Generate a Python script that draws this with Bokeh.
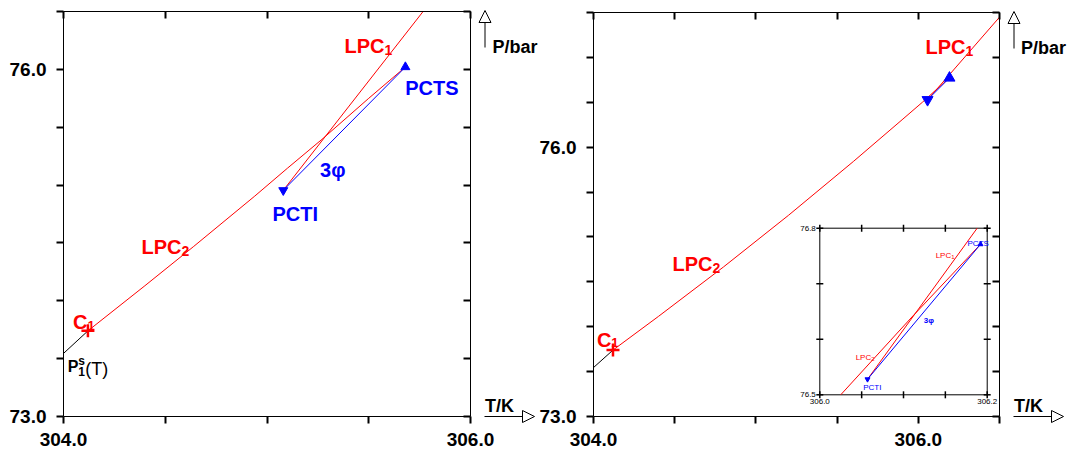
import numpy as np
from bokeh.plotting import figure
from bokeh.models import (Range1d, LinearAxis, FixedTicker, NumeralTickFormatter,
                          Arrow, NormalHead, Label)
from bokeh.layouts import row
from bokeh.embed import file_html
from bokeh.resources import INLINE
from bokeh.core.properties import value

# ---------------- data ----------------
# saturation pressure curve of component 1, ending at its critical point C1
p1s_T = [304.0, 304.12]
p1s_P = [73.545, 73.74]
c1_T = [304.12]
c1_P = [73.74]

# left panel
left_lpc2_T = [304.12, 304.40, 304.64, 304.94, 305.10, 305.27, 305.50, 305.68]
left_lpc2_P = [73.74, 74.13, 74.47, 74.905, 75.145, 75.395, 75.75, 76.02]
left_lpc1_T = [305.08, 305.40, 305.767]
left_lpc1_P = [74.955, 75.675, 76.50]
left_3ph_T = [305.08, 305.68]
left_3ph_P = [74.955, 76.02]
left_pcti_T = [305.08]
left_pcti_P = [74.955]
left_pcts_T = [305.68]
left_pcts_P = [76.02]

# right panel
right_lpc2_T = [304.12, 304.40, 304.80, 305.20, 305.60, 305.90, 306.025, 306.11, 306.192]
right_lpc2_P = [73.74, 74.115, 74.665, 75.24, 75.84, 76.305, 76.50, 76.64, 76.771]
right_lpc1_T = [306.057, 306.188, 306.50]
right_lpc1_P = [76.528, 76.80, 77.448]
right_3ph_T = [306.057, 306.192]
right_3ph_P = [76.528, 76.771]
right_pcti_T = [306.057]
right_pcti_P = [76.528]
right_pcts_T = [306.192]
right_pcts_P = [76.771]

# inset (zoom of the three-phase region of the right panel)
inset_lpc2_T = [306.025, 306.11, 306.192]
inset_lpc2_P = [76.50, 76.64, 76.771]
inset_lpc1_T = [306.057, 306.188]
inset_lpc1_P = [76.528, 76.80]

# ticks
left_x_labeled = [304.0, 306.0]
left_x_minor = [304.5, 305.0, 305.5]
left_y_labeled = [73.0, 76.0]
left_y_minor = [73.5, 74.0, 74.5, 75.0, 75.5, 76.5]
right_x_labeled = [304.0, 306.0]
right_x_minor = [304.5, 305.0, 305.5, 306.5]
right_y_labeled = [73.0, 76.0]
right_y_minor = [73.5, 74.0, 74.5, 75.0, 75.5, 76.5, 77.0, 77.5]
inset_xticks = [306.0, 306.05, 306.1, 306.15, 306.2]
inset_xlabeled = [306.0, 306.2]
inset_yticks = [76.5, 76.6, 76.7, 76.8]
inset_ylabeled = [76.5, 76.8]

# ---------------- styling ----------------
FONT = "Liberation Sans"
RED = "#ff0000"
BLUE = "#0000ff"
H = 452


def style_axis(ax, outward, standoff=0):
    ax.axis_line_color = "black"
    ax.axis_line_width = 1
    ax.major_tick_line_color = "black"
    ax.minor_tick_line_color = "black"
    ax.major_tick_line_width = 2
    ax.minor_tick_line_width = 2
    if outward:
        ax.major_tick_out = 7
        ax.major_tick_in = 0
        ax.minor_tick_out = 7
        ax.minor_tick_in = 0
        ax.major_label_text_font = FONT
        ax.major_label_text_font_style = "bold"
        ax.major_label_text_font_size = "19px"
        ax.major_label_text_color = "black"
        ax.major_label_standoff = standoff
    else:
        ax.major_tick_out = 0
        ax.major_tick_in = 7
        ax.minor_tick_out = 0
        ax.minor_tick_in = 7


def make_panel(width, xr, yr, vis_w, vis_h, left_px, top_px, xlab, xmin, ylab, ymin):
    # The frame fills the whole canvas so that the tick labels and the axis
    # arrows beside the box are not clipped; the box (xr x yr) is formed by the
    # four axes, each pinned at a side of the box.
    kx = (xr[1] - xr[0]) / vis_w
    ky = (yr[1] - yr[0]) / vis_h
    right_px = width - left_px - vis_w
    bottom_px = H - top_px - vis_h
    p = figure(width=width, height=H,
               x_range=Range1d(xr[0] - left_px * kx, xr[1] + right_px * kx),
               y_range=Range1d(yr[0] - bottom_px * ky, yr[1] + top_px * ky),
               output_backend="svg", toolbar_location=None,
               min_border_left=0, min_border_right=0,
               min_border_top=0, min_border_bottom=0,
               background_fill_color="white", border_fill_color="white")
    p.xgrid.visible = False
    p.ygrid.visible = False
    p.outline_line_color = None
    xa, ya = p.xaxis[0], p.yaxis[0]
    xa.ticker = FixedTicker(ticks=xlab, minor_ticks=xmin)
    ya.ticker = FixedTicker(ticks=ylab, minor_ticks=ymin)
    xa.formatter = NumeralTickFormatter(format="0.0")
    ya.formatter = NumeralTickFormatter(format="0.0")
    xa.bounds = xr
    ya.bounds = yr
    xa.fixed_location = yr[0]
    ya.fixed_location = xr[0]
    style_axis(xa, True, standoff=9)
    style_axis(ya, True, standoff=10)
    top = LinearAxis(ticker=FixedTicker(ticks=[], minor_ticks=xlab + xmin),
                     bounds=xr, fixed_location=yr[1])
    right = LinearAxis(ticker=FixedTicker(ticks=[], minor_ticks=ylab + ymin),
                       bounds=yr, fixed_location=xr[1])
    style_axis(top, False)
    style_axis(right, False)
    p.add_layout(top, "above")
    p.add_layout(right, "right")
    return p


def lab(p, x, y, text, color, size=20, align="left", bold=True, font=FONT,
        x_offset=0, y_offset=0):
    p.add_layout(Label(x=x, y=y, text=text, text_color=color, text_font=font,
                       text_font_size=f"{size}px",
                       text_font_style="bold" if bold else "normal",
                       text_align=align, text_baseline="alphabetic",
                       x_offset=x_offset, y_offset=y_offset))


def sublab(p, x, y, main, sub, color, size=20, sub_size=14, drop=4):
    lab(p, x, y, main, color, size, align="right")
    lab(p, x, y, sub, color, sub_size, align="left", y_offset=-drop)


def decorations(p, xr, yr, fw, fh, dx_text):
    kx = (xr[1] - xr[0]) / fw
    ky = (yr[1] - yr[0]) / fh
    X = lambda px: xr[1] + px * kx
    Yt = lambda py: yr[1] - py * ky
    Yb = lambda py: yr[0] + py * ky
    head = lambda: NormalHead(size=12, fill_color="white", line_color="black", line_width=1)
    p.add_layout(Arrow(x_start=X(14.5), y_start=Yt(36), x_end=X(14.5), y_end=Yt(-1),
                       start=None, end=head(), line_color="black", line_width=1))
    p.add_layout(Arrow(x_start=X(14), y_start=yr[0], x_end=X(64), y_end=yr[0],
                       start=None, end=head(), line_color="black", line_width=1))
    lab(p, X(dx_text), Yt(35), "P/bar", "black", size=18)
    lab(p, X(14.5), Yb(11), "T/K", "black", size=18)


# ---------------- left panel ----------------
LXR, LYR = (304.0, 306.0), (73.0, 76.5)
p1 = make_panel(538, LXR, LYR, 407, 405, 63, 11, left_x_labeled, left_x_minor,
                left_y_labeled, left_y_minor)
p1.line(p1s_T, p1s_P, line_color="black", line_width=1)
p1.line(left_lpc2_T, left_lpc2_P, line_color=RED, line_width=1)
p1.line(left_lpc1_T, left_lpc1_P, line_color=RED, line_width=1)
p1.line(left_3ph_T, left_3ph_P, line_color=BLUE, line_width=1)
p1.scatter(c1_T, c1_P, marker="cross", size=13, line_width=2.5, line_color=RED)
p1.scatter(left_pcti_T, left_pcti_P, marker="inverted_triangle", size=9,
           fill_color=BLUE, line_color=BLUE)
p1.scatter(left_pcts_T, left_pcts_P, marker="triangle", size=9,
           fill_color=BLUE, line_color=BLUE)

sublab(p1, 305.577, 76.198, "LPC", "1", RED)
lab(p1, 305.679, 75.835, "PCTS", BLUE)
lab(p1, 305.261, 75.126, "3\u03c6", BLUE)
lab(p1, 305.027, 74.754, "PCTI", BLUE)
sublab(p1, 304.580, 74.461, "LPC", "2", RED)
sublab(p1, 304.118, 73.815, "C", "1", RED, size=20, sub_size=13, drop=3)
lab(p1, 304.021, 73.432, "P", "black", size=16)
lab(p1, 304.021, 73.432, "s", "black", size=12, x_offset=10.5, y_offset=6)
lab(p1, 304.021, 73.432, "1", "black", size=12, x_offset=10.5, y_offset=-5)
lab(p1, 304.021, 73.432, "(T)", "black", size=18, bold=False,
    x_offset=17.5, y_offset=-2)
decorations(p1, LXR, LYR, 407, 405, 22)

# ---------------- right panel ----------------
RXR, RYR = (304.0, 306.5), (73.0, 77.5)
p2 = make_panel(531, RXR, RYR, 406, 404, 55, 12, right_x_labeled, right_x_minor,
                right_y_labeled, right_y_minor)
p2.line(p1s_T, p1s_P, line_color="black", line_width=1)
p2.line(right_lpc2_T, right_lpc2_P, line_color=RED, line_width=1)
p2.line(right_lpc1_T, right_lpc1_P, line_color=RED, line_width=1)
p2.line(right_3ph_T, right_3ph_P, line_color=BLUE, line_width=1)
p2.scatter(c1_T, c1_P, marker="cross", size=13, line_width=2.5, line_color=RED)
p2.scatter(right_pcti_T, right_pcti_P, marker="inverted_triangle", size=11,
           fill_color=BLUE, line_color=BLUE)
p2.scatter(right_pcts_T, right_pcts_P, marker="triangle", size=11,
           fill_color=BLUE, line_color=BLUE)
sublab(p2, 306.291, 77.121, "LPC", "1", RED)
sublab(p2, 304.733, 74.704, "LPC", "2", RED)
sublab(p2, 304.110, 73.855, "C", "1", RED, size=20, sub_size=13, drop=3)
decorations(p2, RXR, RYR, 406, 404, 21.5)

# ---------------- inset (drawn through a sub-coordinate mapping) ----------------
IXR, IYR = (inset_xticks[0], inset_xticks[-1]), (inset_yticks[0], inset_yticks[-1])
sub = p2.subplot(x_source=Range1d(*IXR), y_source=Range1d(*IYR),
                 x_target=Range1d(305.3935, 306.4243), y_target=Range1d(73.2417, 75.0974))
sub.quad(left=[IXR[0]], right=[IXR[1]], bottom=[IYR[0]], top=[IYR[1]],
         fill_color="white", line_color="black", line_width=1)
sub.scatter(x=[IXR[0]] * len(inset_yticks) + [IXR[1]] * len(inset_yticks),
            y=inset_yticks * 2, marker="dash", size=7, line_color="black", line_width=1.5)
sub.scatter(x=inset_xticks * 2,
            y=[IYR[0]] * len(inset_xticks) + [IYR[1]] * len(inset_xticks),
            marker="dash", angle=np.pi / 2, size=7, line_color="black", line_width=1.5)
sub.text(x=inset_xlabeled, y=[IYR[0]] * len(inset_xlabeled),
         text=[f"{v:.1f}" for v in inset_xlabeled], text_align="center",
         text_baseline="top", y_offset=4, text_font=value(FONT), text_font_size="8px",
         text_color="black")
sub.text(x=[IXR[0]] * len(inset_ylabeled), y=inset_ylabeled,
         text=[f"{v:.1f}" for v in inset_ylabeled], text_align="right",
         text_baseline="middle", x_offset=-4, text_font=value(FONT), text_font_size="8px",
         text_color="black")
sub.line(inset_lpc2_T, inset_lpc2_P, line_color=RED, line_width=1)
sub.line(inset_lpc1_T, inset_lpc1_P, line_color=RED, line_width=1)
sub.line(right_3ph_T, right_3ph_P, line_color=BLUE, line_width=1)
sub.scatter(right_pcti_T, right_pcti_P, marker="inverted_triangle", size=5,
            fill_color=BLUE, line_color=BLUE)
sub.scatter(right_pcts_T, right_pcts_P, marker="triangle", size=5,
            fill_color=BLUE, line_color=BLUE)


def itext(x, y, t, color, size=8, align="left", dy=0, bold=False):
    sub.text(x=[x], y=[y], text=[t], text_align=align, text_baseline="alphabetic",
             y_offset=dy, text_font=value(FONT), text_font_size=f"{size}px",
             text_font_style="bold" if bold else "normal", text_color=color)


itext(306.1765, 76.7716, "PCTS", BLUE)
itext(306.157, 76.751, "LPC", RED, align="right")
itext(306.157, 76.751, "1", RED, size=6, dy=2)
itext(306.0614, 76.5677, "LPC", RED, align="right")
itext(306.0614, 76.5677, "2", RED, size=6, dy=2)
itext(306.0519, 76.5126, "PCTI", BLUE)
itext(306.1243, 76.634, "3\u03c6", BLUE, bold=True)

layout = row(p1, p2)
open("out.html", "w").write(file_html(layout, INLINE))
